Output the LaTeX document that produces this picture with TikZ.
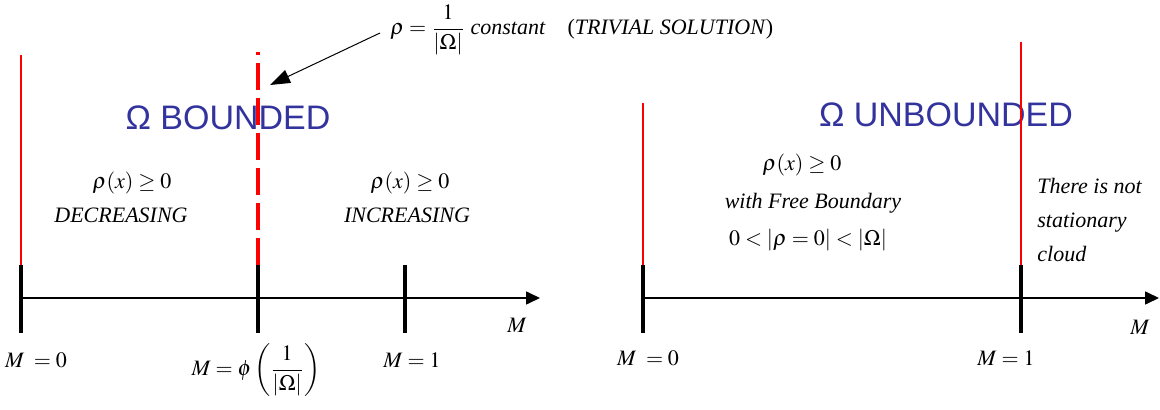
\documentclass[tikz,border=0pt]{standalone}
\usepackage{amsmath}
\usepackage{mathptmx}
\usepackage{fontspec}
\setmainfont{Liberation Serif}
\setsansfont{Liberation Sans}
\usetikzlibrary{arrows.meta}
\definecolor{ink}{HTML}{000000}
\definecolor{limred}{HTML}{FF0000}
\definecolor{titleblue}{HTML}{33339E}
\tikzset{
  every node/.style={font=\fontsize{11}{13}\selectfont, inner sep=1pt, text=ink},
  ptitle/.style={font=\sffamily\fontsize{17}{20}\selectfont, text=titleblue},
  lbl/.style={font=\fontsize{11}{13}\selectfont},
  ital/.style={font=\fontsize{11}{13}\selectfont\itshape},
  note/.style={font=\fontsize{11}{17}\selectfont\itshape, align=left},
  maxis/.style={-{Triangle[length=7pt, width=6.5pt]}, line width=0.8pt, draw=ink},
  mtick/.style={line width=1.6pt, draw=ink},
  redline/.style={draw=limred, line width=0.7pt},
  reddash/.style={draw=limred, line width=1.6pt, dash pattern=on 13.5pt off 4pt},
  annarr/.style={-{Triangle[length=10pt, width=7pt]}, line width=0.5pt, draw=ink},
}
\begin{document}
\begin{tikzpicture}[x=0.5pt, y=-0.5pt]
\useasboundingbox (0,0) rectangle (1160,410);

% --- titles ---
\node[ptitle] (bnd) at (228,118) {Ω BOUNDED};
\node[ptitle] (unb) at (946,115) {Ω UNBOUNDED};

% --- left axis: bounded domain ---
\coordinate (La) at (21,298);
\coordinate (Lb) at (540,298);
\draw[maxis] (La) -- (Lb);
\draw[mtick] (21,265) -- (21,333);
\draw[mtick] (258,265) -- (258,333);
\draw[mtick] (405,265) -- (405,333);
\draw[redline] (21,55) -- (21,265);
\draw[reddash] (258,265) -- (258,52);

\node[lbl] (rhoL) at (132,183) {$\rho(x)\geq 0$};
\node[ital] (dec) at (121,215) {DECREASING};
\node[lbl] (rhoR) at (410,183) {$\rho(x)\geq 0$};
\node[ital] (inc) at (407,215) {INCREASING};

\node[lbl] (axL) at (517,325) {$M$};
\node[lbl] (m0L) at (36,360) {$M\;=0$};
\node[lbl] (mphi) at (256,370) {$M=\phi\left(\dfrac{1}{|\Omega|}\right)$};
\node[lbl] (m1L) at (412,360) {$M=1$};

% --- trivial solution ---
\node[lbl, anchor=west] (triv) at (388,30)
  {$\rho=\dfrac{1}{|\Omega|}$ \textit{constant}\quad(\textit{TRIVIAL SOLUTION})};
\coordinate (trivtip) at (270,85);
\draw[annarr] ([xshift=-4pt, yshift=-1.5pt]triv.west) -- (trivtip);

% --- right axis: unbounded domain ---
\coordinate (Ra) at (643,298);
\coordinate (Rb) at (1159,298);
\draw[maxis] (Ra) -- (Rb);
\draw[mtick] (643,265) -- (643,333);
\draw[mtick] (1021,265) -- (1021,333);
\draw[redline] (643,103) -- (643,265);
\draw[redline] (1021,42) -- (1021,265);

\node[lbl] (rhoU) at (802,165) {$\rho(x)\geq 0$};
\node[ital] (free) at (813,203) {with Free Boundary};
\node[lbl] (card) at (808,240) {$0<|\rho=0|<|\Omega|$};
\node[note, anchor=west] (nocloud) at (1035,220) {There is not\\stationary\\cloud};

\node[lbl] (axR) at (1140,327) {$M$};
\node[lbl] (m0R) at (648,358) {$M\;=0$};
\node[lbl] (m1R) at (1006,358) {$M=1$};

\end{tikzpicture}
\end{document}
